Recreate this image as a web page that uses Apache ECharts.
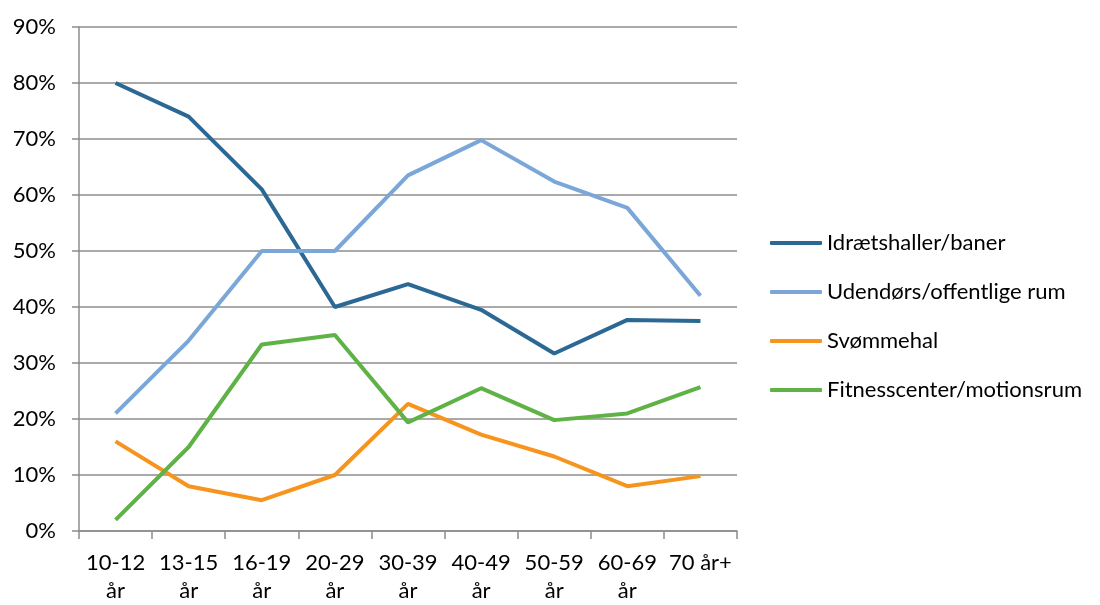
<!DOCTYPE html>
<html>
<head>
<meta charset="utf-8">
<script src="https://cdn.jsdelivr.net/npm/echarts@6/dist/echarts.min.js"></script>
<style>
html,body{margin:0;padding:0;background:#fff;}
#main{width:1100px;height:605px;}
</style>
</head>
<body>
<div id="main"></div>
<script>
var categories = ['10-12\når', '13-15\når', '16-19\når', '20-29\når', '30-39\når', '40-49\når', '50-59\når', '60-69\når', '70 år+'];
var seriesNames = ['Idrætshaller/baner', 'Udendørs/offentlige rum', 'Svømmehal', 'Fitnesscenter/motionsrum'];
var idraet = [80, 74, 61, 40, 44.1, 39.5, 31.7, 37.7, 37.5];
var udendors = [21, 34, 50, 50, 63.5, 69.8, 62.4, 57.7, 42];
var svommehal = [16, 8, 5.5, 10, 22.7, 17.2, 13.3, 8, 9.8];
var fitness = [2, 15, 33.3, 35, 19.4, 25.5, 19.8, 21, 25.7];
var colors = ['#2b6894', '#7aa7d8', '#f7941e', '#5fb246'];

var myChart = echarts.init(document.getElementById('main'));
var font = 'Lato, "Open Sans", sans-serif';

function makeLine(name, data, i){
	return {
		name: name,
		type: 'line',
		data: data,
		symbol: 'none',
		lineStyle: {width: 4, color: colors[i]},
		itemStyle: {color: colors[i]}
	};
}

var option = {
	animation: false,
	textStyle: {fontFamily: font},
	grid: {left: 79, right: 363, top: 27, bottom: 72},
	legend: {
		orient: 'vertical',
		left: 765,
		top: 226,
		icon: 'roundRect',
		itemWidth: 52,
		itemHeight: 4,
		itemGap: 25,
		textStyle: {fontSize: 22, color: '#000', fontFamily: font, lineHeight: 24},
		data: seriesNames
	},
	xAxis: {
		type: 'category',
		data: categories,
		boundaryGap: true,
		axisLine: {lineStyle: {color: '#8c8c8c', width: 1.5}},
		axisTick: {show: true, length: 8, alignWithLabel: false, lineStyle: {color: '#8c8c8c', width: 1.5}},
		axisLabel: {color: '#000', fontSize: 22, margin: 18, lineHeight: 28, interval: 0}
	},
	yAxis: {
		type: 'value',
		min: 0,
		max: 90,
		interval: 10,
		axisLine: {show: true, lineStyle: {color: '#8c8c8c', width: 1.5}},
		axisTick: {show: true, length: 7, lineStyle: {color: '#8c8c8c', width: 1.5}},
		splitLine: {lineStyle: {color: '#8c8c8c', width: 1.5}},
		axisLabel: {color: '#000', fontSize: 22, margin: 23, formatter: '{value}%'}
	},
	series: [
		makeLine(seriesNames[0], idraet, 0),
		makeLine(seriesNames[1], udendors, 1),
		makeLine(seriesNames[2], svommehal, 2),
		makeLine(seriesNames[3], fitness, 3)
	]
};

myChart.setOption(option);
</script>
</body>
</html>
